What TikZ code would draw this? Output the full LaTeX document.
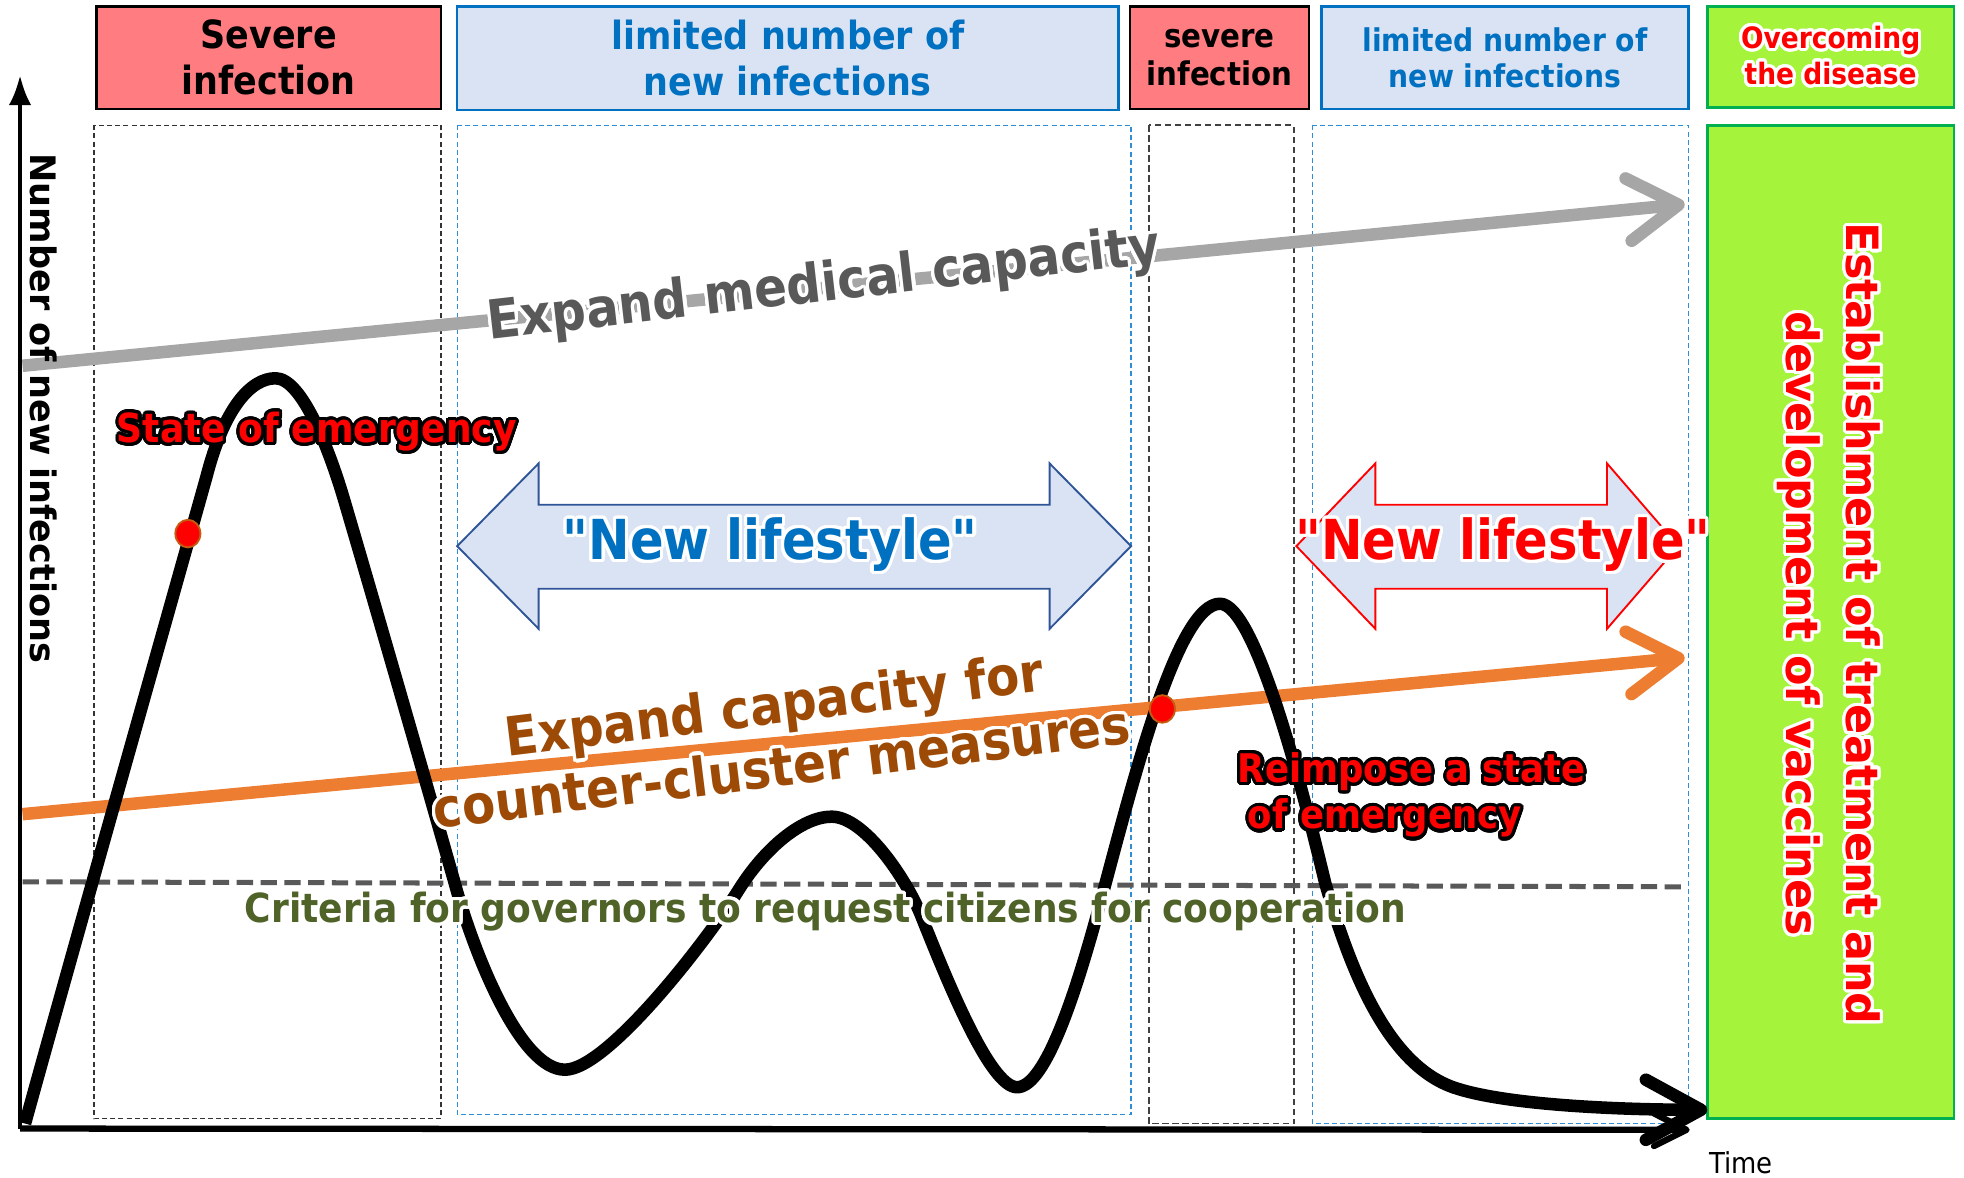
\documentclass[tikz,border=0pt]{standalone}
\usepackage{fontspec}
\setmainfont{DejaVu Sans Condensed}
\newfontfamily\widefont{DejaVu Sans}
\usepackage{contour}
\contourlength{2.5pt}
\contournumber{32}
\usetikzlibrary{arrows.meta,shapes.geometric}
\newcommand\sq{\XeTeXglyph\XeTeXcharglyph"22\relax}
\definecolor{salmon}{HTML}{FF7C80}
\definecolor{paleblue}{HTML}{DAE3F3}
\definecolor{hdrblue}{HTML}{0070C0}
\definecolor{arrblue}{HTML}{2F5597}
\definecolor{limeg}{HTML}{A6F33C}
\definecolor{boxgreen}{HTML}{00B050}
\definecolor{dashblue}{HTML}{2E8FD8}
\definecolor{medgray}{HTML}{A6A6A6}
\definecolor{dgray}{HTML}{595959}
\definecolor{orng}{HTML}{ED7D31}
\definecolor{brwn}{HTML}{9C4A06}
\definecolor{olivegr}{HTML}{4F6228}
\definecolor{dotedge}{HTML}{C55A11}
\begin{document}
\begin{tikzpicture}[x=1pt,y=-1pt,
  hdrbox/.style={draw, line width=2pt, inner sep=0pt, align=center},
  colblack/.style={draw=black!80, line width=1pt, dash pattern=on 4pt off 2.5pt},
  colblue/.style={draw=dashblue, line width=1pt, dash pattern=on 4pt off 2.5pt},
  bigarrow/.style={line width=10pt, -{Straight Barb[length=40pt,width=50pt,round]}},
  reddot/.style={ellipse, fill=red, draw=dotedge, line width=1.5pt, minimum width=20pt, minimum height=22pt, inner sep=0pt},
  lbl/.style={inner sep=0pt, align=center}
]
\useasboundingbox (0,0) rectangle (1568,940);

% header boxes
\node[hdrbox, fill=salmon, draw=black, minimum width=275pt, minimum height=82pt,
  font=\bfseries\fontsize{31}{37}\selectfont] (h1) at (214.5,46) {Severe\\infection};
\node[hdrbox, fill=paleblue, draw=hdrblue, text=hdrblue, minimum width=528pt, minimum height=83pt,
  font=\bfseries\fontsize{31}{37}\selectfont] (h2) at (629,46.5) {limited number of\\new infections};
\node[hdrbox, fill=salmon, draw=black, minimum width=143pt, minimum height=82pt,
  font=\bfseries\fontsize{26}{31}\selectfont] (h3) at (973.5,46) {severe\\infection};
\node[hdrbox, fill=paleblue, draw=hdrblue, text=hdrblue, minimum width=293pt, minimum height=82pt,
  font=\bfseries\fontsize{25}{29}\selectfont] (h4) at (1201.5,46) {limited number of\\new infections};
\node[hdrbox, fill=limeg, draw=boxgreen, text=red, minimum width=197pt, minimum height=81pt,
  font=\bfseries\fontsize{23.5}{29}\selectfont] (h5) at (1461.5,45.5) {\contour{white}{Overcoming}\\\contour{white}{the disease}};

% green column
\node[hdrbox, fill=limeg, draw=boxgreen, minimum width=197pt, minimum height=793pt] (gcol) at (1461.5,496.5) {};

% dashed columns
\draw[colblack] (75,100) rectangle (352,893);
\draw[colblue] (365,100) rectangle (903,890);
\draw[draw=black!75, line width=1.5pt, dash pattern=on 5pt off 3pt] (917,100) rectangle (1033,897);
\draw[colblue] (1048,100) rectangle (1348,897);

% criteria line
\coordinate (cl1) at (18,704);
\coordinate (cl2) at (1345,708);
\draw[dgray, line width=4pt, dash pattern=on 13pt off 6pt] (cl1) -- (cl2);

% gray arrow
\coordinate (g1) at (18,292);
\coordinate (g2) at (1345,163);
\draw[bigarrow, medgray] (g1) -- (g2);

% double arrows
\draw[fill=paleblue, draw=arrblue, line width=1.5pt, line join=miter]
  (365,436) -- (430,370) -- (430,403) -- (838,403) -- (838,370) -- (903,436)
  -- (838,502) -- (838,470) -- (430,470) -- (430,502) -- cycle;
\draw[fill=paleblue, draw=red, line width=1.5pt, line join=miter]
  (1035,436) -- (1098,370) -- (1098,403) -- (1283,403) -- (1283,370) -- (1340,436)
  -- (1283,502) -- (1283,470) -- (1098,470) -- (1098,502) -- cycle;

% orange arrow
\coordinate (o1) at (18,650);
\coordinate (o2) at (1345,525);
\draw[bigarrow, orng] (o1) -- (o2);

% axes
\coordinate (O) at (16,901);
\coordinate (ytop) at (16,60);
\coordinate (xend) at (1349,902);
\draw[line width=3.5pt, -{Latex[length=24pt,width=18pt]}] (O) -- (ytop);
\draw[line width=5pt, -{Straight Barb[length=26pt,width=26pt,round]}] (O) -- (xend);

% curve
\draw[line width=10pt, line join=round, -{Straight Barb[length=44pt,width=48pt,round]}]
  (20,897) .. controls (55,770) and (130,505) .. (165,380)
  .. controls (179,326) and (200,302) .. (220,302)
  .. controls (241,302) and (263,359) .. (275,400)
  .. controls (300,485) and (338,617) .. (363,705)
  .. controls (378,760) and (415,854) .. (451,854)
  .. controls (485,854) and (565,750) .. (590,710)
  .. controls (610,678) and (640,652) .. (664,652)
  .. controls (690,652) and (723,701) .. (735,730)
  .. controls (755,780) and (790,868) .. (812,868)
  .. controls (835,868) and (860,790) .. (880,715)
  .. controls (905,622) and (940,482) .. (974,482)
  .. controls (1002,482) and (1040,630) .. (1058,705)
  .. controls (1080,782) and (1110,850) .. (1160,868)
  .. controls (1200,882) and (1290,886) .. (1363,886);

% red dots
\node[reddot] (d1) at (150,426) {};
\node[reddot] (d2) at (928,566) {};

% texts
\node[lbl, rotate=-90, font=\widefont\bfseries\fontsize{28}{34}\selectfont] (ylab) at (35,326) {Number of new infections};
\node[lbl, rotate=-90, text=red, font=\widefont\bfseries\fontsize{35.5}{48}\selectfont] (est) at (1459,498)
  {\contour{white}{Establishment of treatment and}\\\contour{white}{development of vaccines}};
\node[lbl, rotate=6.5, text=dgray, font=\bfseries\fontsize{43}{48}\selectfont] (emc) at (658,230)
  {\contour{white}{Expand medical capacity}};
\node[lbl, rotate=7, text=brwn, font=\bfseries\fontsize{43}{50}\selectfont] (ecc) at (621,588)
  {\contour{white}{Expand capacity for}\\\contour{white}{counter-cluster measures}};
\node[lbl, text=hdrblue, font=\bfseries\fontsize{44}{50}\selectfont] (nl1) at (615,436) {\contour{white}{\sq New lifestyle\sq}};
\node[lbl, text=red, font=\bfseries\fontsize{44}{50}\selectfont] (nl2) at (1200,436) {\contour{white}{\sq New lifestyle\sq}};
\node[lbl, text=red, font=\bfseries\fontsize{32}{37}\selectfont] (soe) at (253,346) {\contour{black}{State of emergency}};
\node[lbl, text=red, align=left, font=\bfseries\fontsize{31.5}{37}\selectfont] (rse) at (1127,636)
  {\contour{black}{Reimpose a state}\\\hspace*{8pt}\contour{black}{of emergency}};
\node[lbl, text=olivegr, font=\bfseries\fontsize{32}{38}\selectfont] (crit) at (659,729)
  {\contour{white}{Criteria for governors to request citizens for cooperation}};
\node[lbl, font=\fontsize{23}{28}\selectfont] (time) at (1390,928) {Time};
\end{tikzpicture}
\end{document}
